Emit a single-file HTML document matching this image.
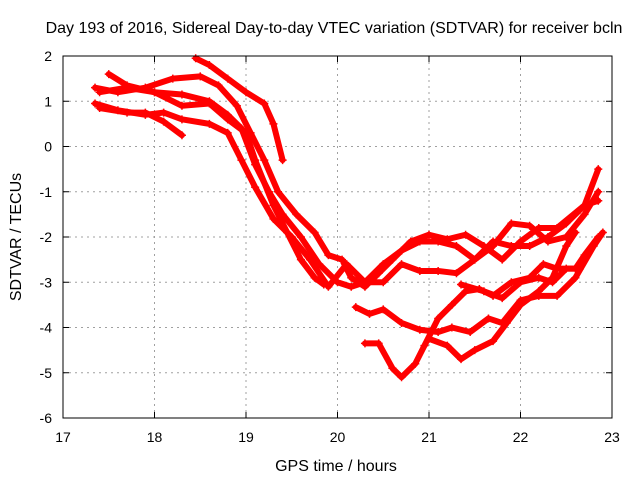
<!DOCTYPE html>
<html><head><meta charset="utf-8"><style>
body{margin:0;background:#fff;}
svg{display:block;font-family:"Liberation Sans",sans-serif;}
</style></head><body>
<svg id="chart" width="640" height="480">
<text x="334" y="33" text-anchor="middle" font-size="16">Day 193 of 2016, Sidereal Day-to-day VTEC variation (SDTVAR) for receiver bcln</text>
<text x="336" y="471" text-anchor="middle" font-size="16">GPS time / hours</text>
<text transform="translate(21,237) rotate(-90)" text-anchor="middle" font-size="16">SDTVAR / TECUs</text>
<g id="grid"></g><g id="series"></g><g id="axes"></g>
</svg>
<script>
const xTicks=[17,18,19,20,21,22,23];
const yTicks=[2,1,0,-1,-2,-3,-4,-5,-6];
const s1x=[18.45,18.6,18.8,19.0,19.2,19.3,19.4];
const s1y=[1.95,1.8,1.5,1.2,0.95,0.5,-0.3];
const s2x=[17.35,17.6,17.9,18.2,18.5,18.7,18.9,19.05,19.2,19.35,19.55,19.75,19.9,20.05,20.15,20.3,20.45,20.6,20.8,21.0,21.2,21.4,21.6,21.8,22.0,22.2,22.4,22.7,22.85];
const s2y=[1.3,1.2,1.3,1.5,1.55,1.35,0.9,0.3,-0.3,-1.0,-1.5,-1.9,-2.4,-2.5,-2.9,-3.1,-2.8,-2.5,-2.1,-1.95,-2.05,-1.95,-2.2,-2.5,-2.1,-1.8,-1.8,-1.3,-0.5];
const s3x=[17.5,17.7,18.0,18.3,18.6,18.8,18.95,19.1,19.25,19.4,19.6,19.8,20.0,20.15,20.3,20.5,20.7,20.9,21.1,21.3,21.5,21.7,21.9,22.1,22.3,22.5,22.7,22.85];
const s3y=[1.6,1.35,1.2,1.15,1.0,0.7,0.4,-0.4,-1.0,-1.5,-2.0,-2.6,-3.0,-3.1,-3.0,-2.6,-2.3,-2.1,-2.1,-2.2,-2.5,-2.2,-1.7,-1.75,-2.1,-2.0,-1.5,-1.0];
const s4x=[17.35,17.6,17.9,18.1,18.3,18.6,18.8,18.95,19.1,19.3,19.5,19.7,19.9,20.1,20.3,20.5,20.7,20.9,21.1,21.3,21.5,21.7,21.9,22.1,22.3,22.5,22.7,22.85];
const s4y=[0.95,0.8,0.7,0.75,0.6,0.5,0.3,-0.3,-0.9,-1.6,-2.0,-2.5,-3.1,-2.6,-3.0,-3.0,-2.6,-2.75,-2.75,-2.8,-2.5,-2.1,-2.2,-2.2,-2.0,-1.7,-1.3,-1.2];
const s5x=[17.4,17.7,18.0,18.3,18.6,18.8,19.0,19.1,19.3,19.45,19.6,19.75,19.85];
const s5y=[1.2,1.3,1.2,0.9,0.95,0.6,0.3,-0.3,-1.3,-1.9,-2.5,-2.9,-3.05];
const s6x=[17.4,17.7,17.9,18.1,18.3];
const s6y=[0.85,0.75,0.75,0.55,0.25];
const s7x=[20.2,20.35,20.5,20.7,20.9,21.1,21.25,21.45,21.65,21.8,22.0,22.2,22.4,22.6,22.8,22.9];
const s7y=[-3.55,-3.7,-3.6,-3.9,-4.05,-4.1,-4.0,-4.1,-3.8,-3.9,-3.4,-3.3,-3.3,-2.9,-2.2,-1.9];
const s8x=[20.3,20.45,20.6,20.7,20.85,20.95,21.1,21.25,21.4,21.55,21.7,21.9,22.1,22.25,22.4,22.6,22.7,22.85];
const s8y=[-4.35,-4.35,-4.9,-5.1,-4.8,-4.4,-3.8,-3.5,-3.2,-3.15,-3.3,-3.0,-2.9,-2.6,-2.7,-2.7,-2.4,-2.0];
const s9x=[21.35,21.6,21.8,22.0,22.2,22.35,22.5,22.65];
const s9y=[-3.05,-3.2,-3.35,-3.0,-2.9,-3.0,-2.7,-2.7];
const s10x=[21.0,21.2,21.35,21.5,21.7,21.85,22.0,22.2,22.35,22.5,22.6];
const s10y=[-4.25,-4.4,-4.7,-4.5,-4.3,-3.9,-3.5,-3.2,-2.9,-2.2,-1.9];
const seriesX=[s1x,s2x,s3x,s4x,s5x,s6x,s7x,s8x,s9x,s10x];
const seriesY=[s1y,s2y,s3y,s4y,s5y,s6y,s7y,s8y,s9y,s10y];

const L=63,R=612,T=56,B=418;
const X=v=>L+(v-17)/6*(R-L);
const Y=v=>T+(2-v)/8*(B-T);
const NS='http://www.w3.org/2000/svg';
function mk(tag,attrs,parent){const e=document.createElementNS(NS,tag);for(const k in attrs)e.setAttribute(k,attrs[k]);parent.appendChild(e);return e;}
const grid=document.getElementById('grid'),axes=document.getElementById('axes'),ser=document.getElementById('series');
xTicks.forEach(t=>{
  if(t>17&&t<23){const g=mk('line',{x1:X(t),x2:X(t),y1:T,y2:B,stroke:'#a0a0a0','stroke-dasharray':'2,4'},grid);
  
  }
  const tk=mk('path',{d:`M${X(t)},${B}v-6M${X(t)},${T}v6`,stroke:'#000'},axes);
  
  
  const lb=mk('text',{x:X(t),y:B+24,'text-anchor':'middle','font-size':14},axes);lb.textContent=t;
  
  
});
yTicks.forEach(t=>{
  if(t<2&&t>-6){const g=mk('line',{x1:L,x2:R,y1:Y(t),y2:Y(t),stroke:'#a0a0a0','stroke-dasharray':'2,4'},grid);
  
  }
  const tk=mk('path',{d:`M${L},${Y(t)}h6M${R},${Y(t)}h-6`,stroke:'#000'},axes);
  
  
  const lb=mk('text',{x:L-11,y:Y(t)+5,'text-anchor':'end','font-size':14},axes);lb.textContent=t;
  
  
});
const fr=mk('rect',{x:L,y:T,width:R-L,height:B-T,fill:'none',stroke:'#000'},axes);


seriesX.forEach((xs,i)=>{
  const ys=seriesY[i];
  const pts=xs.map((x,j)=>X(x)+','+Y(ys[j])).join(' ');
  const pl=mk('polyline',{points:pts,fill:'none',stroke:'#ff0000','stroke-width':6,'stroke-linejoin':'round','stroke-linecap':'round'},ser);
  
  
  xs.forEach((x,j)=>{
    const m=mk('path',{d:`M${X(x)-4},${Y(ys[j])}h8M${X(x)},${Y(ys[j])-4}v8`,stroke:'#ff0000','stroke-width':1.5},ser);
    
    
  });
});
</script>
</body></html>
